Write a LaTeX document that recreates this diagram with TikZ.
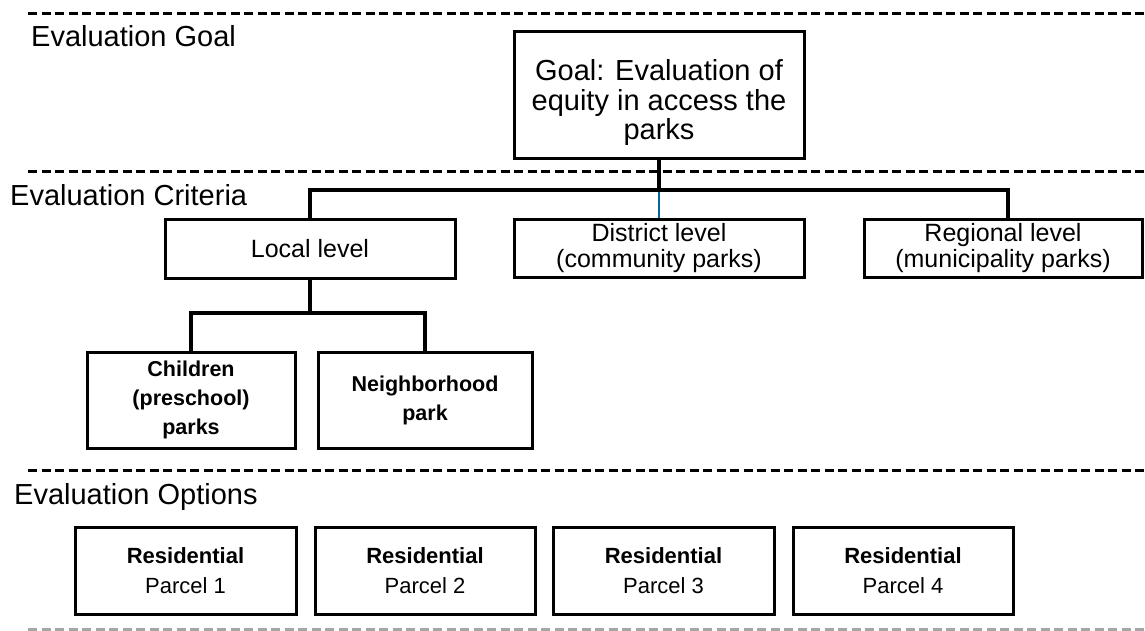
\documentclass[tikz,border=0pt]{standalone}
\usepackage{fontspec}
\setmainfont{Liberation Sans}
\begin{document}
\begin{tikzpicture}[x=1pt,y=-1pt,
  box/.style={draw=black, line width=3pt, inner sep=0pt, align=center},
  conn/.style={draw=black, line width=3.5pt},
  thinconn/.style={draw=blue!40!black!60!cyan, line width=1.4pt},
  divider/.style={draw=black, line width=3pt, dash pattern=on 9pt off 4.5pt},
  seclabel/.style={anchor=base west, inner sep=0pt, font=\fontsize{29}{32}\selectfont},
  goalfont/.style={font=\fontsize{29}{29.5}\selectfont},
  levelfont/.style={font=\fontsize{25}{25.5}\selectfont},
  parkfont/.style={font=\fontsize{21.5}{29}\selectfont\bfseries},
  parcelfont/.style={font=\fontsize{22}{30}\selectfont}]
\useasboundingbox (0,0) rectangle (1145,631);

% horizontal section dividers
\draw[divider] (28,14) -- (1145,14);
\draw[divider] (28,172) -- (1145,172);
\draw[divider] (28,470) -- (1145,470);
\draw[divider, draw=black!35] (28,629) -- (1145,629);

% section titles
\node[seclabel] (tgoal) at (31,47) {Evaluation Goal};
\node[seclabel] (tcrit) at (10,205) {Evaluation Criteria};
\node[seclabel] (topt) at (14,504) {Evaluation Options};

% goal
\node[box, goalfont, minimum width=290, minimum height=127] (goal) at (659,95.5)
  {\rule{0pt}{36pt}Goal: Evaluation of\\equity in access the\\parks};

% criteria
\node[box, levelfont, minimum width=290, minimum height=59] (local) at (310,248.5) {Local level};
\node[box, levelfont, minimum width=290, minimum height=58] (district) at (659,248)
  {District level\\(community parks)};
\node[box, levelfont, minimum width=278, minimum height=58] (regional) at (1003,248)
  {Regional level\\(municipality parks)};

% local sub-criteria
\node[box, parkfont, minimum width=208, minimum height=96] (children) at (191,400)
  {Children\\(preschool)\\parks};
\node[box, parkfont, minimum width=214, minimum height=96] (neigh) at (425,400)
  {Neighborhood\\park};

% options
\foreach \cx/\w/\n in {185.5/221/1, 425/220/2, 663.5/221/3, 903/220/4}
  \node[box, parcelfont, minimum width=\w, minimum height=87] (parcel\n) at (\cx,570.5)
    {\textbf{Residential}\\Parcel \n};

% connectors
\coordinate (bus) at (0,190);
\coordinate (split) at (0,313);
\draw[conn] (goal.south) -- (goal.south |- bus);
\draw[thinconn] (goal.south |- bus) -- (district.north);
\draw[conn] (local.north) -- (local.north |- bus) -| ([xshift=5pt]regional.north);
\draw[conn, line width=4.5pt] (local.south) -- (local.south |- split);
\draw[conn] (children.north) -- (children.north |- split) -| (neigh.north);
\end{tikzpicture}
\end{document}
